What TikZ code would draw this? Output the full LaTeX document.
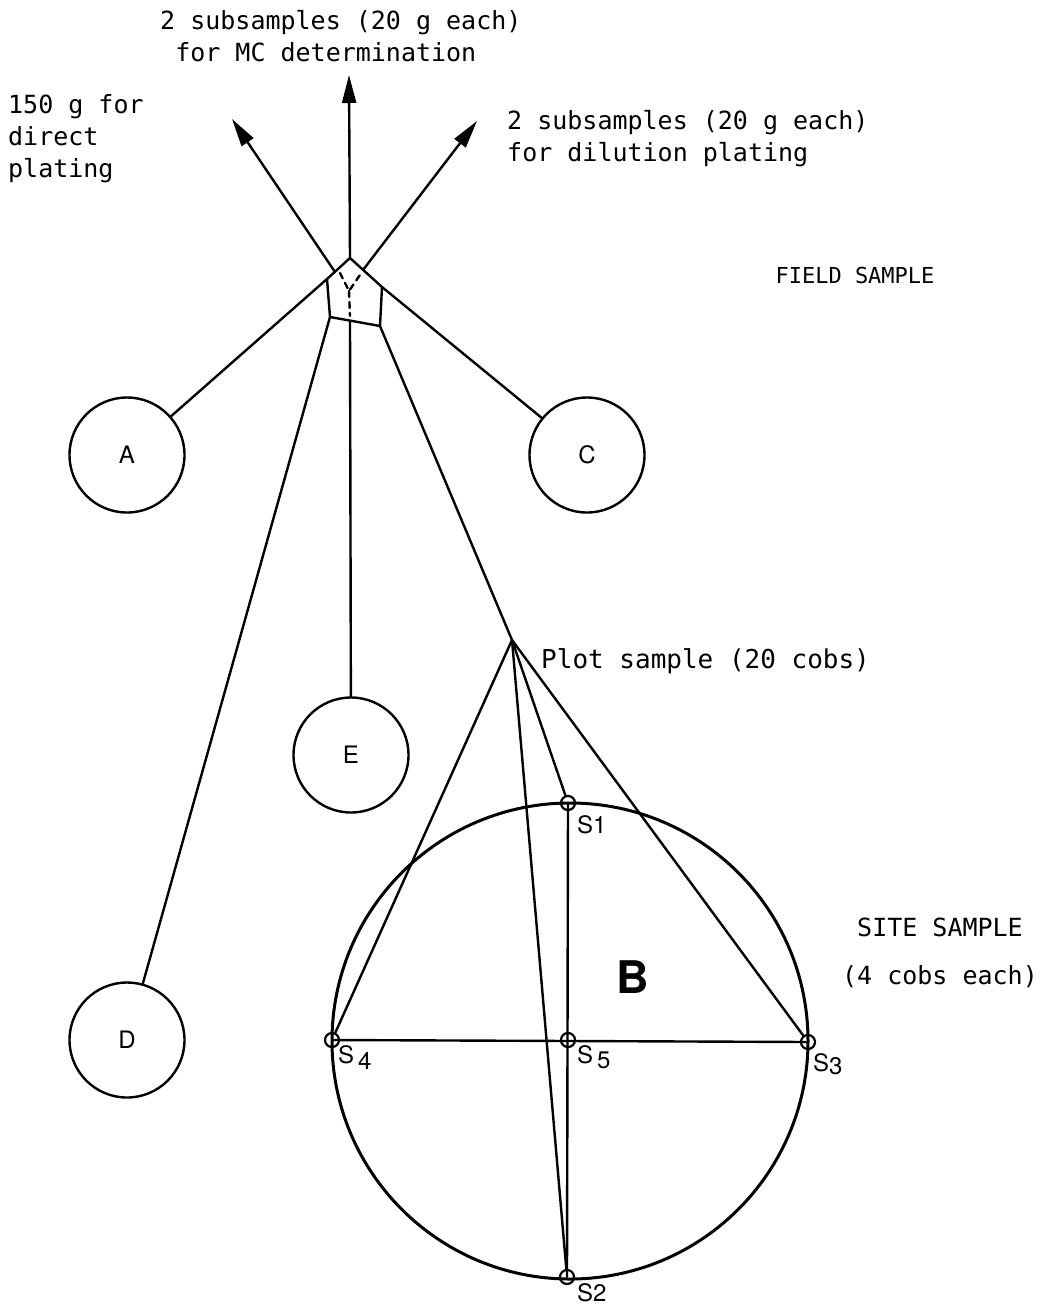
\documentclass[tikz,border=0pt]{standalone}
\usepackage{fontspec}
\setmainfont{TeX Gyre Heros}
\newfontfamily\labelfont{DejaVu Sans Mono}
\usetikzlibrary{arrows.meta}
\begin{document}
\begin{tikzpicture}[x=1pt,y=-1pt,
  ln/.style={line width=2.4pt, line cap=round, line join=round},
  arr/.style={ln, -{Triangle[length=28pt,width=14pt]}},
  plotc/.style={circle, draw, line width=2.4pt, minimum size=115pt, inner sep=0pt, font=\fontsize{24}{28}\selectfont},
  lbl/.style={font=\labelfont\fontsize{25}{32}\selectfont, inner sep=0pt, align=left},
  slbl/.style={font=\fontsize{24}{28}\selectfont, inner sep=0pt, anchor=west},
  smark/.style={circle, draw, line width=2.2pt, minimum size=14pt, inner sep=0pt}
]
\useasboundingbox (0,0) rectangle (1049,1307);

% field sample pentagon
\coordinate (pT) at (350,258);
\coordinate (pUL) at (327,279);
\coordinate (pLL) at (330,317);
\coordinate (pLR) at (380,326);
\coordinate (pUR) at (382,287);
\coordinate (pB) at (350,321);
\draw[ln] (pT)--(pUL)--(pLL)--(pLR)--(pUR)--cycle;
\coordinate (yL) at (340,273);
\coordinate (yR) at (362,272);
\coordinate (yJ) at (349,291);
\coordinate (yB) at (350,316);
\draw[ln, dash pattern=on 6pt off 5pt] (yL)--(yJ)--(yR) (yJ)--(yB);

% arrows
\coordinate (aL0) at (335,272);
\coordinate (aR0) at (363,270);
\coordinate (tipL) at (232,119);
\coordinate (tipT) at (349,75);
\coordinate (tipR) at (477,121);
\draw[arr] (aL0) -- (tipL);
\draw[arr] (pT) -- (tipT);
\draw[arr] (aR0) -- (tipR);

% labels top
\node[lbl, anchor=north west] (lMC) at (160,10) {2 subsamples (20 g each)\\\phantom{2}for MC determination};
\node[lbl, anchor=north west] (lDP) at (8,94) {150 g for\\direct\\plating};
\node[lbl, anchor=north west] (lDil) at (507,110) {2 subsamples (20 g each)\\for dilution plating};
\node[lbl, font=\labelfont\fontsize{22}{26}\selectfont] (lField) at (855,275) {FIELD SAMPLE};
\node[lbl, anchor=west, font=\labelfont\fontsize{26}{32}\selectfont] (lPlot) at (541,661) {Plot sample (20 cobs)};
\node[lbl] (lSite) at (940,927) {SITE SAMPLE};
\node[lbl] (lCobs) at (940,977) {(4 cobs each)};

% plots
\node[plotc] (A) at (127,455) {A};
\node[plotc] (C) at (587,455) {C};
\node[plotc] (E) at (351,755) {E};
\node[plotc] (D) at (127,1040) {D};
\coordinate (apex) at (512,640);

\draw[ln] (pUL) -- (A);
\draw[ln] (pUR) -- (C);
\draw[ln] (pLL) -- (D);
\draw[ln] (pB) -- (E);
\draw[ln] (pLR) -- (apex);

% plot B
\node[circle, draw, line width=3pt, minimum size=476pt, inner sep=0pt] (B) at (570,1041) {};
\node[font=\bfseries\fontsize{45}{50}\selectfont, inner sep=0pt] (Bl) at (633,977) {B};

\node[smark] (S1) at (568,803) {};
\node[smark] (S2) at (567,1277) {};
\node[smark] (S3) at (808,1042) {};
\node[smark] (S4) at (332,1040) {};
\node[smark] (S5) at (568,1040) {};

\draw[ln] (S1.center) -- (S2.center);
\draw[ln] (S4.center) -- (S3.center);
\draw[ln] (apex) -- (S4);
\draw[ln] (apex) -- (S1);
\draw[ln] (apex) -- (S2);
\draw[ln] (apex) -- (S3);

\node[slbl] (tS1) at (577,825) {S1};
\node[slbl] (tS2) at (577,1293) {S2};
\node[slbl] (tS3) at (813,1064) {S\raisebox{-3pt}{3}};
\node[slbl] (tS4) at (338,1058) {S\,\raisebox{-6pt}{4}};
\node[slbl] (tS5) at (577,1057) {S\,\raisebox{-5pt}{5}};
\end{tikzpicture}
\end{document}
